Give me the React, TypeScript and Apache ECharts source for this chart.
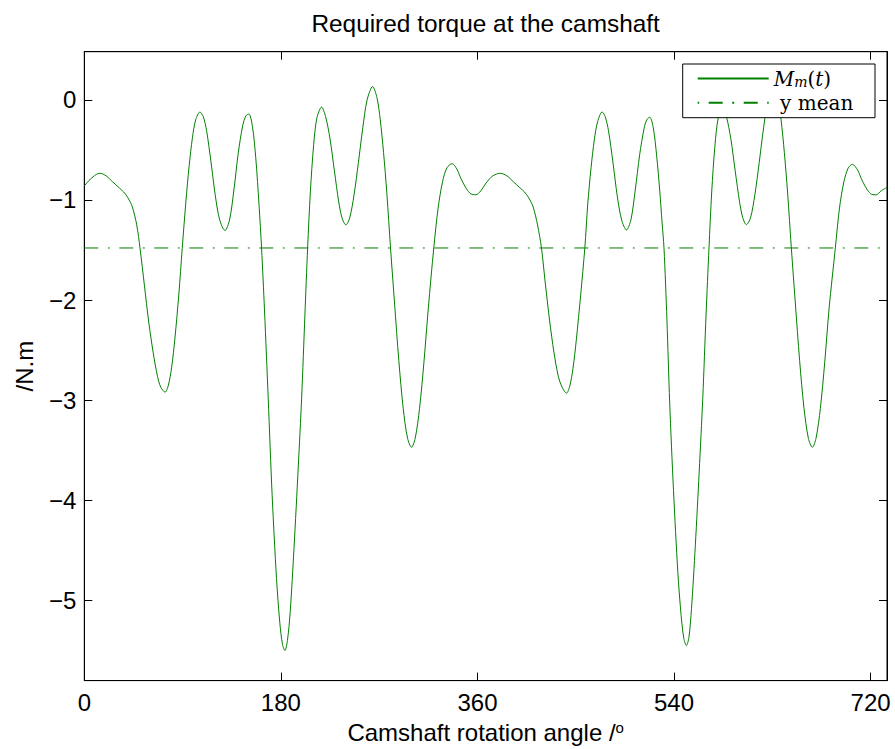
import React, { useEffect, useRef } from 'react';
import * as echarts from 'echarts';

const TITLE = 'Required torque at the camshaft';
const X_NAME = 'Camshaft rotation angle /{o|o}';
const Y_NAME = '/N.m';
const SERIES_NAME = 'M_m(t)';
const MEAN_NAME = 'y mean';

const X_MIN = 0;
const X_MAX = 735;
const Y_MIN = -5.8;
const Y_MAX = 0.48;
const X_TICKS = [0, 180, 360, 540, 720];
const Y_TICKS = [-5, -4, -3, -2, -1, 0];

const ANGLE_DEG = [
  0, 4, 8, 11, 14.4, 20, 26, 32, 36, 40, 44, 48, 51, 55, 59, 63, 67, 70, 73.9,
  77, 80, 83, 86.5, 89.7, 93, 96, 99, 102, 105.9, 109, 112, 116, 120, 124, 128.8,
  133, 137, 141, 145, 148, 150.7, 154, 157, 160, 162.3, 165, 168.4, 172, 176, 179,
  181.5, 183.7, 186, 188.5, 192, 195.9, 199, 202, 204.5, 207, 210, 213, 217.3,
  221, 225, 229, 233, 236, 239.5, 243, 247, 251, 255, 259, 264, 268, 271, 274,
  277, 280.4, 284, 288, 292, 296, 299.6, 303, 307, 311, 315, 320, 324, 328, 332,
  336.8, 341, 345, 350, 354, 358.5, 363, 368, 374, 381, 387, 393, 399, 403, 407,
  411, 415, 418.6, 422, 426, 430, 434, 437.5, 441.5, 444.5, 447.5, 450.5, 454.5,
  458.3, 461, 464, 467, 470, 474.1, 477, 480, 484, 488, 492, 496.4, 500.5, 504.5,
  508.5, 512.5, 515, 517.8, 521, 524, 527, 529, 530.8, 533.5, 536, 539.5, 543.5,
  546.5, 549, 551.3, 553.6, 556, 559.5, 563, 566.3, 569.3, 572, 574.5, 577.5,
  580.5, 584.5, 588, 592, 596, 600, 603, 606.2, 610, 614, 618, 622, 626, 631, 635,
  638, 641, 644, 647.4, 651, 655, 659, 663, 666.6, 670, 674, 678, 682, 687.7,
  691.5, 695.5, 699.5, 703.3, 708, 712, 717, 721, 725.2, 729.5, 735,
];

const TORQUE_NM = [
  -0.86, -0.81, -0.77, -0.745, -0.734, -0.76, -0.82, -0.88, -0.92, -0.98, -1.07, -1.25, -1.48, -1.85, -2.22, -2.52, -2.76, -2.87, -2.92,
  -2.85, -2.67, -2.38, -1.95, -1.48, -1.02, -0.66, -0.38, -0.2, -0.122, -0.17, -0.31, -0.62, -0.96, -1.2, -1.306,
  -1.2, -0.9, -0.53, -0.26, -0.16, -0.142, -0.27, -0.58, -1.05, -1.48, -2.1, -2.98, -3.95, -4.78, -5.22,
  -5.44, -5.5, -5.4, -5.12, -4.48, -3.67, -2.98, -2.15, -1.48, -0.92, -0.45, -0.18, -0.073,
  -0.17, -0.39, -0.71, -1.02, -1.18, -1.25, -1.18, -0.95, -0.625, -0.28, 0.0, 0.132, 0.02, -0.2, -0.526,
  -0.93, -1.48, -2.02, -2.605, -3.08, -3.38, -3.47, -3.38, -3.08, -2.62, -2.08, -1.48, -1.08, -0.82, -0.68,
  -0.638, -0.69, -0.79, -0.89, -0.94, -0.949, -0.91, -0.83, -0.76, -0.734, -0.76, -0.82, -0.88, -0.92, -0.98,
  -1.07, -1.25, -1.48, -1.82, -2.2, -2.52, -2.76, -2.87, -2.93, -2.86, -2.68, -2.4, -1.95,
  -1.48, -1.04, -0.68, -0.4, -0.22, -0.122, -0.17, -0.31, -0.62, -0.96, -1.2, -1.3, -1.2, -0.9,
  -0.55, -0.29, -0.2, -0.175, -0.28, -0.55, -0.92, -1.22, -1.48, -2.2, -3.02, -3.9, -4.72,
  -5.15, -5.38, -5.45, -5.37, -5.08, -4.45, -3.72, -2.98, -2.15, -1.48, -0.92, -0.45,
  -0.18, -0.08, -0.17, -0.39, -0.71, -1.02, -1.18, -1.247, -1.18, -0.95, -0.625, -0.28, 0.0, 0.125, 0.02,
  -0.2, -0.526, -0.93, -1.48, -2.02, -2.605, -3.08, -3.38, -3.47, -3.38, -3.08, -2.62, -2.08, -1.48,
  -1.08, -0.82, -0.68, -0.645, -0.7, -0.8, -0.9, -0.945, -0.949, -0.91, -0.875,
];

const MEAN_TORQUE = -1.48;

const GREEN = '#008000';
const SANS = '"Liberation Sans", Arial, Helvetica, sans-serif';
const SERIF = '"DejaVu Serif", "Liberation Serif", serif';

const fmtNum = (v: number) => String(v).replace('-', '\u2212');

const legendRich = {
  i: { fontFamily: SERIF, fontStyle: 'italic', fontSize: 20, lineHeight: 20, color: '#000' },
  s: { fontFamily: SERIF, fontStyle: 'italic', fontSize: 14, lineHeight: 8, padding: [6, 0, 0, 0], color: '#000' },
  n: { fontFamily: SERIF, fontSize: 20, lineHeight: 20, color: '#000' },
};

const makeLegend = (name: string, top: number, extra: any = {}) => ({
  show: true,
  orient: 'vertical',
  left: 696.7,
  top,
  padding: 0,
  itemWidth: 71,
  itemHeight: 14,
  itemGap: 0,
  z: 20,
  selectedMode: false,
  itemStyle: { opacity: 0, color: 'rgba(0,0,0,0)', borderColor: 'rgba(0,0,0,0)', borderWidth: 0 },
  data: [name],
  formatter: (n: string) => (n === SERIES_NAME ? '{i|M}{s|m}{n|(}{i|t}{n|)}' : '{n| y mean}'),
  textStyle: {
    color: '#000',
    fontFamily: SERIF,
    fontSize: 20,
    lineHeight: 20,
    rich: legendRich,
  },
  ...extra,
});

export default function App() {
  const ref = useRef<HTMLDivElement>(null);

  useEffect(() => {
    if (!ref.current) return;
    const chart = echarts.init(ref.current, null, { renderer: 'svg' });

    const axisLineStyle = { color: '#000', width: 1 };
    const option: any = {
      animation: false,
      backgroundColor: '#fff',
      title: {
        text: TITLE,
        left: 485.6,
        top: 11,
        textAlign: 'center',
        padding: 0,
        textStyle: { fontFamily: SANS, fontSize: 24.4, fontWeight: 'normal', color: '#000' },
      },
      grid: {
        left: 84.3,
        right: 8,
        top: 51.7,
        bottom: 64.3,
        show: true,
        borderColor: '#000',
        borderWidth: 1,
        backgroundColor: '#fff',
      },
      xAxis: [
        {
          type: 'value',
          position: 'bottom',
          min: X_MIN,
          max: X_MAX,
          interval: 180,
          axisLine: { show: true, onZero: false, lineStyle: axisLineStyle },
          axisTick: { show: true, inside: true, length: 8, lineStyle: axisLineStyle },
          axisLabel: {
            margin: 10,
            fontFamily: SANS,
            fontSize: 24,
            color: '#000',
            formatter: (v: number) => (X_TICKS.includes(v) ? fmtNum(v) : ''),
          },
          splitLine: { show: false },
          name: X_NAME,
          nameLocation: 'middle',
          nameGap: 38,
          nameTextStyle: {
            fontFamily: SANS,
            fontSize: 24,
            color: '#000',
            rich: { o: { fontFamily: SANS, fontSize: 15, color: '#000', padding: [0, 0, 10, 0] } },
          },
        },
        {
          type: 'value',
          position: 'top',
          min: X_MIN,
          max: X_MAX,
          interval: 180,
          axisLine: { show: true, onZero: false, lineStyle: axisLineStyle },
          axisTick: { show: true, inside: true, length: 8, lineStyle: axisLineStyle },
          axisLabel: { show: false },
          splitLine: { show: false },
        },
      ],
      yAxis: [
        {
          type: 'value',
          position: 'left',
          min: Y_MIN,
          max: Y_MAX,
          minInterval: 1,
          maxInterval: 1,
          axisLine: { show: true, onZero: false, lineStyle: axisLineStyle },
          axisTick: { show: true, inside: true, length: 8, lineStyle: axisLineStyle },
          axisLabel: {
            margin: 8,
            fontFamily: SANS,
            fontSize: 24,
            color: '#000',
            formatter: (v: number) => (Y_TICKS.includes(v) ? fmtNum(v) : ''),
          },
          splitLine: { show: false },
          name: Y_NAME,
          nameLocation: 'middle',
          nameGap: 48,
          nameTextStyle: { fontFamily: SANS, fontSize: 24, color: '#000' },
        },
        {
          type: 'value',
          position: 'right',
          min: Y_MIN,
          max: Y_MAX,
          minInterval: 1,
          maxInterval: 1,
          axisLine: { show: true, onZero: false, lineStyle: axisLineStyle },
          axisTick: { show: true, inside: true, length: 8, lineStyle: axisLineStyle },
          axisLabel: { show: false },
          splitLine: { show: false },
        },
      ],
      legend: [
        makeLegend(SERIES_NAME, 68.5),
        makeLegend(MEAN_NAME, 92.7, { lineStyle: { dashOffset: 23.5 } }),
      ],
      graphic: [
        {
          type: 'rect',
          z: 10,
          shape: { x: 682.7, y: 64, width: 192.3, height: 53.7 },
          style: { fill: '#fff', stroke: '#000', lineWidth: 1 },
        },
      ],
      series: [
        {
          name: SERIES_NAME,
          type: 'line',
          xAxisIndex: 0,
          yAxisIndex: 0,
          data: ANGLE_DEG.map((a, i) => [a, TORQUE_NM[i]]),
          symbol: 'none',
          showSymbol: false,
          smooth: 0.3,
          lineStyle: { color: GREEN, width: 1 },
          itemStyle: { color: GREEN },
          z: 3,
        },
        {
          name: MEAN_NAME,
          type: 'line',
          xAxisIndex: 0,
          yAxisIndex: 0,
          data: [
            [X_MIN, MEAN_TORQUE],
            [X_MAX, MEAN_TORQUE],
          ],
          symbol: 'none',
          showSymbol: false,
          lineStyle: { color: GREEN, width: 1, type: [14, 9.5, 2, 9.5] },
          itemStyle: { color: GREEN },
          z: 3,
        },
      ],
    };

    chart.setOption(option);
    return () => chart.dispose();
  }, []);

  return (
    <div
      ref={ref}
      style={{ position: 'fixed', left: 0, top: 0, width: 895, height: 749, background: '#fff' }}
    />
  );
}
